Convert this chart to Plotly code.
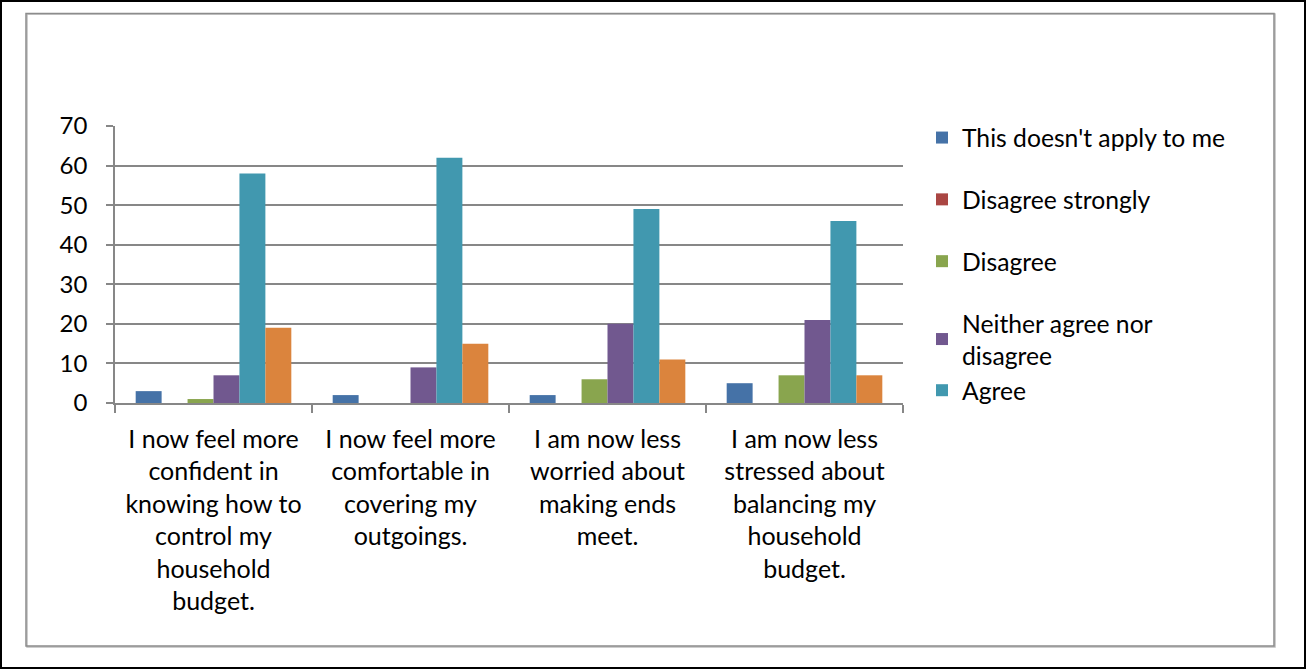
import plotly.graph_objects as go

categories = [
    "I now feel more<br>confident in<br>knowing how to<br>control my<br>household<br>budget.",
    "I now feel more<br>comfortable in<br>covering my<br>outgoings.",
    "I am now less<br>worried about<br>making ends<br>meet.",
    "I am now less<br>stressed about<br>balancing my<br>household<br>budget.",
]
series_names = ["This doesn't apply to me", "Disagree strongly", "Disagree",
                "Neither agree nor<br>disagree", "Agree", "Agree strongly"]
not_apply = [3, 2, 2, 5]
disagree_strongly = [0, 0, 0, 0]
disagree = [1, 0, 6, 7]
neither = [7, 9, 20, 21]
agree = [58, 62, 49, 46]
agree_strongly = [19, 15, 11, 7]
y_ticks = [0, 10, 20, 30, 40, 50, 60, 70]

values = [not_apply, disagree_strongly, disagree, neither, agree, agree_strongly]
colors = ["#4572A7", "#AA4643", "#89A54E", "#71588F", "#4198AF", "#DB843D"]
groups = ["g0", "g1", "g2", "g3", "g3", "g5"]
show_leg = [True, True, True, True, True, False]

W, H = 1306, 669
L, R, T, B = 115, 403, 126, 266
PW, PH = W - L - R, H - T - B


def px(x):
    return (x - L) / PW


def py(y):
    return (H - B - y) / PH


FONT = "Lato"
fig = go.Figure()
for i, (name, vals) in enumerate(zip(series_names, values)):
    fig.add_trace(go.Bar(
        x=categories, y=vals, name=name,
        marker=dict(color=colors[i], line=dict(width=0)),
        showlegend=show_leg[i], legendgroup=groups[i],
    ))

grey = "#878787"
fig.update_layout(
    width=W, height=H,
    margin=dict(l=L, r=R, t=T, b=B, pad=0),
    paper_bgcolor="white", plot_bgcolor="white",
    barmode="group", bargap=0.21, bargroupgap=0,
    font=dict(family=FONT, color="black", size=24),
    showlegend=True,
    legend=dict(
        x=px(922), y=py(115), xanchor="left", yanchor="top",
        font=dict(family=FONT, size=24.7, color="black"),
        tracegroupgap=26.7, bgcolor="rgba(0,0,0,0)", itemsizing="constant",
        traceorder="grouped",
    ),
    xaxis=dict(
        showline=True, linecolor=grey, linewidth=1.5,
        ticks="outside", tickson="boundaries", ticklen=8, tickcolor=grey, tickwidth=1.5,
        tickfont=dict(family=FONT, size=25, color="black"),
        ticklabelstandoff=13,
        showgrid=False, zeroline=False, fixedrange=True,
    ),
    yaxis=dict(
        range=[0, 70], tickvals=y_ticks, ticktext=[str(v) for v in y_ticks],
        showline=True, linecolor=grey, linewidth=1.5,
        ticks="outside", ticklen=7, tickcolor=grey, tickwidth=1.5,
        showgrid=True, gridcolor=grey, gridwidth=1.5,
        zeroline=False, ticklabelstandoff=14,
        tickfont=dict(family=FONT, size=24, color="black"),
        fixedrange=True,
    ),
    shapes=[
        dict(type="rect", xref="paper", yref="paper",
             x0=px(1), x1=px(W - 1), y0=py(1), y1=py(H - 1),
             line=dict(color="black", width=2), layer="below"),
        dict(type="rect", xref="paper", yref="paper",
             x0=px(27), x1=px(1275), y0=py(14), y1=py(647),
             line=dict(color="#BDBDBD", width=1.5), layer="below"),
        dict(type="rect", xref="paper", yref="paper",
             x0=px(26), x1=px(1274), y0=py(13.5), y1=py(646),
             line=dict(color="#8C8C8C", width=1.5), layer="below"),
    ],
)

fig.write_html("out.html")
